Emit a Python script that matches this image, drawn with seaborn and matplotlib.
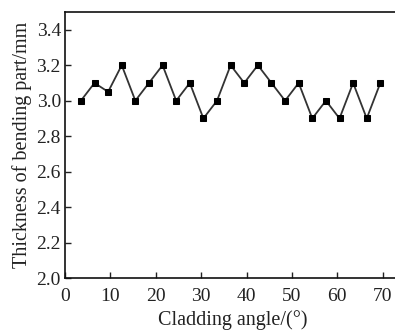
import matplotlib
matplotlib.use("Agg")
import matplotlib.pyplot as plt
import seaborn as sns
import pandas as pd

angles = [3.5, 6.5, 9.5, 12.5, 15.5, 18.5, 21.5, 24.5, 27.5, 30.5, 33.5, 36.5,
          39.5, 42.5, 45.5, 48.5, 51.5, 54.5, 57.5, 60.5, 63.5, 66.5, 69.5]
thickness = [3.0, 3.1, 3.05, 3.2, 3.0, 3.1, 3.2, 3.0, 3.1, 2.9, 3.0, 3.2,
             3.1, 3.2, 3.1, 3.0, 3.1, 2.9, 3.0, 2.9, 3.1, 2.9, 3.1]
xticks = [0, 10, 20, 30, 40, 50, 60, 70]
yticks = [2.0, 2.2, 2.4, 2.6, 2.8, 3.0, 3.2, 3.4]

sns.set_style("ticks")
plt.rcParams['font.family'] = ['Liberation Serif', 'DejaVu Serif']

df = pd.DataFrame({"angle": angles, "thickness": thickness})

fig = plt.figure(figsize=(3.95, 3.31), dpi=100)
# axes extends slightly past the right figure edge, like the cropped original
ax = fig.add_axes([0.1646, 0.160, 0.85, 0.8037])
sns.lineplot(data=df, x="angle", y="thickness", ax=ax, color="#333333",
             linewidth=1.3, marker="s", markersize=4.6,
             markerfacecolor="black", markeredgecolor="black")
ax.set_xlim(0, 74.0)
ax.set_ylim(2.0, 3.5)
ax.set_xticks(xticks)
ax.set_yticks(yticks)
ax.set_yticklabels([f"{v:.1f}" for v in yticks])
ax.tick_params(direction="in", length=4, width=1, labelsize=14, colors="#222222")
ax.tick_params(axis="x", pad=7)
ax.tick_params(axis="y", pad=3)
ax.yaxis.set_ticks_position("left")
ax.xaxis.set_ticks_position("bottom")
for s in ["left", "bottom", "top"]:
    ax.spines[s].set_linewidth(1.2)
    ax.spines[s].set_color("#111111")
ax.spines["right"].set_visible(False)
ax.set_xlabel("Cladding angle/(°)", fontsize=14.5, color="#222222", labelpad=4)
ax.set_ylabel("Thickness of bending part/mm", fontsize=14.5, color="#222222", labelpad=3)
fig.savefig("out.png", dpi=100)
